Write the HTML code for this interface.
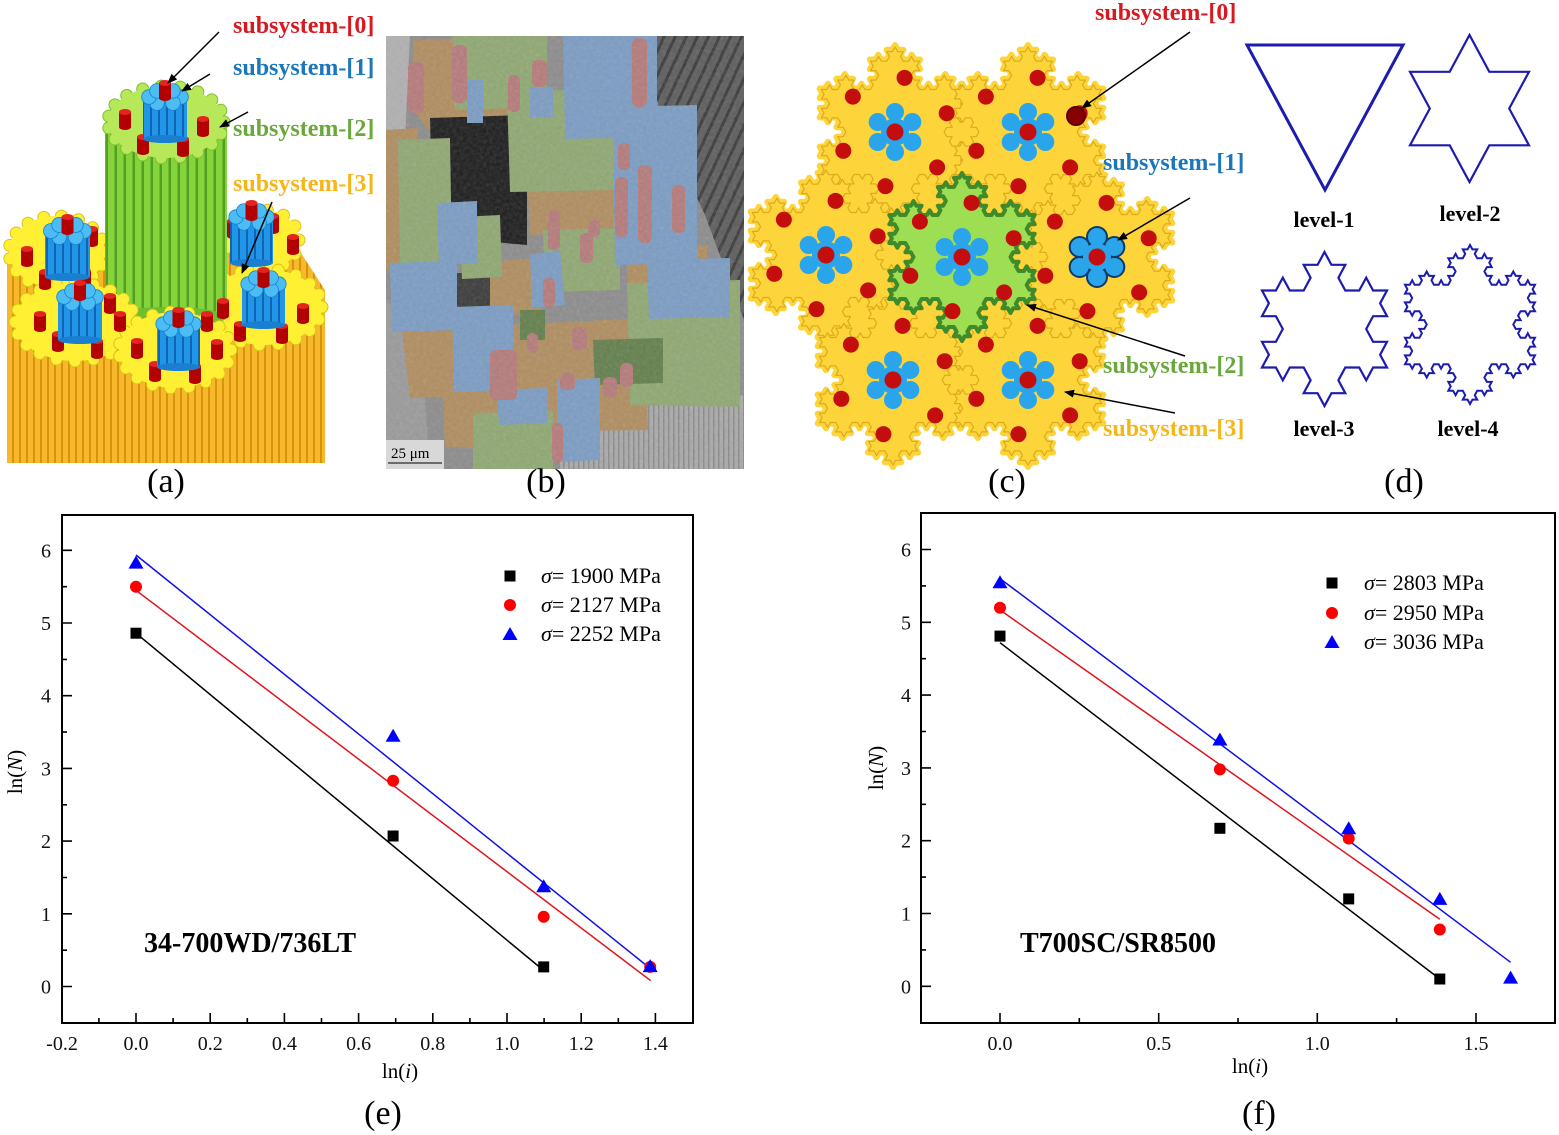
<!DOCTYPE html>
<html><head><meta charset="utf-8"><style>
html,body{margin:0;padding:0;background:#fff;}
body{width:1559px;height:1135px;overflow:hidden;}
svg{display:block;}
</style></head><body>
<svg id="s" width="1559" height="1135" viewBox="0 0 1559 1135" xmlns="http://www.w3.org/2000/svg" font-family="'Liberation Serif', serif">
<defs>
<pattern id="ostr" width="7" height="10" patternUnits="userSpaceOnUse"><rect width="7" height="10" fill="#f8b82c"/><rect x="5" width="2" height="10" fill="#d8920e"/></pattern>
<pattern id="gstr" width="9" height="10" patternUnits="userSpaceOnUse"><rect width="9" height="10" fill="#86d43c"/><rect x="6.5" width="2.5" height="10" fill="#529f22"/></pattern>
<pattern id="bstr" width="8" height="10" patternUnits="userSpaceOnUse"><rect width="8" height="10" fill="#2196e8"/><rect x="6" width="2" height="10" fill="#0f64b4"/></pattern>
<pattern id="dstr" width="10" height="10" patternUnits="userSpaceOnUse" patternTransform="rotate(25)"><rect width="10" height="10" fill="#5c5c5c"/><rect x="6" width="3" height="10" fill="#3a3a3a"/></pattern>
<pattern id="lstr" width="5" height="10" patternUnits="userSpaceOnUse"><rect width="5" height="10" fill="#a9a9a9"/><rect x="3" width="1.5" height="10" fill="#8a8a8a"/></pattern>
<filter id="nz" x="0" y="0" width="1" height="1"><feTurbulence type="fractalNoise" baseFrequency="0.3" numOctaves="2" seed="4"/><feColorMatrix type="saturate" values="0"/></filter>
<marker id="ah" markerWidth="10" markerHeight="8" refX="9" refY="4" orient="auto" markerUnits="userSpaceOnUse"><path d="M0,0L10,4L0,8Z" fill="#000"/></marker>
<clipPath id="cb"><rect x="386" y="36" width="358" height="433"/></clipPath>
</defs>

<!-- ================= PANEL A ================= -->
<g id="pa">
<path d="M7,262 L60,246 L150,236 L290,236 L325,290 L325,463 L7,463 Z" fill="url(#ostr)"/>
<g id="ayb"></g>
<rect x="105" y="122" width="122" height="195" fill="url(#gstr)"/>
<ellipse cx="166" cy="317" rx="61" ry="10" fill="#6cbf2e"/>
<g id="agt"></g>
<g id="ayf"></g>
<g id="acl"></g>
</g>
<g font-weight="bold" font-size="24">
<text x="233" y="33" fill="#d71920">subsystem-[0]</text>
<text x="233" y="75" fill="#1c76bc">subsystem-[1]</text>
<text x="233" y="136" fill="#6aa83c">subsystem-[2]</text>
<text x="233" y="191" fill="#f6b617">subsystem-[3]</text>
</g>
<g stroke="#000" stroke-width="1.5" marker-end="url(#ah)">
<line x1="219" y1="32" x2="168" y2="83"/>
<line x1="210" y1="74" x2="182" y2="91"/>
<line x1="248" y1="112" x2="220" y2="127"/>
<line x1="272" y1="202" x2="242" y2="273"/>
</g>
<text x="166" y="492" font-size="34" text-anchor="middle">(a)</text>

<!-- ================= PANEL B ================= -->
<g clip-path="url(#cb)">
<rect x="386" y="36" width="358" height="433" fill="#8c8c8c"/>
<path d="M386,36 L410,36 L405,140 L386,150Z" fill="#b0b0b0"/>
<path d="M640,36 L744,36 L744,320 L705,215 L665,130 Z" fill="url(#dstr)"/>
<path d="M560,405 L744,395 L744,469 L560,469Z" fill="url(#lstr)"/>
<path d="M386,300 L420,330 L430,469 L386,469Z" fill="#9a9a9a"/>
<g fill="#b08d5f">
<path d="M413,40 L470,38 L478,125 L430,132 L413,110Z"/>
<path d="M386,130 L418,128 L420,272 L386,270Z"/>
<path d="M480,103 L567,100 L567,132 L482,132Z"/>
<path d="M527,172 L613,165 L615,230 L530,235Z"/>
<path d="M483,262 L537,258 L540,313 L486,316Z"/>
<path d="M400,313 L490,308 L495,395 L410,398Z"/>
<path d="M443,390 L500,388 L500,447 L445,447Z"/>
<path d="M505,325 L645,318 L648,430 L510,432Z"/>
<path d="M627,248 L707,245 L708,303 L628,305Z"/>
</g>
<path d="M430,118 L527,115 L527,245 L470,240 L432,200Z" fill="#1c1c1c"/>
<path d="M457,273 L490,273 L490,313 L457,313Z" fill="#3a3a3a"/>
<g fill="#8fa872">
<path d="M453,36 L547,36 L547,107 L455,110Z"/>
<path d="M398,140 L450,138 L452,263 L400,265Z"/>
<path d="M507,92 L613,88 L615,190 L510,192Z"/>
<path d="M460,217 L500,215 L502,277 L462,279Z"/>
<path d="M543,230 L620,228 L620,290 L545,292Z"/>
<path d="M627,283 L740,280 L740,407 L630,405Z"/>
<path d="M473,413 L553,411 L553,469 L473,469Z"/>
</g>
<path d="M593,340 L663,338 L663,383 L595,385Z" fill="#627f4c"/>
<path d="M520,310 L545,310 L545,340 L520,340Z" fill="#627f4c"/>
<g fill="#7b9cc3">
<path d="M563,36 L657,36 L657,137 L565,139Z"/>
<path d="M613,107 L697,105 L697,263 L615,265Z"/>
<path d="M390,263 L457,261 L457,330 L392,332Z"/>
<path d="M452,307 L513,305 L513,390 L454,392Z"/>
<path d="M557,380 L600,378 L600,460 L557,462Z"/>
<path d="M437,203 L477,201 L477,263 L439,265Z"/>
<path d="M647,260 L730,258 L730,317 L649,319Z"/>
<path d="M497,390 L547,388 L547,423 L499,425Z"/>
<path d="M467,80 L483,80 L483,123 L467,123Z"/>
<path d="M530,87 L553,87 L553,117 L530,117Z"/>
<path d="M530,255 L560,250 L565,305 L532,308Z"/>
</g>
<g fill="#b57a7a">
<rect x="408" y="62" width="16" height="51" rx="6"/>
<rect x="452" y="45" width="15" height="58" rx="6"/>
<rect x="508" y="75" width="12" height="37" rx="5"/>
<rect x="532" y="60" width="15" height="27" rx="5"/>
<rect x="632" y="38" width="15" height="69" rx="6"/>
<rect x="618" y="143" width="12" height="27" rx="5"/>
<rect x="615" y="177" width="13" height="60" rx="5"/>
<rect x="638" y="165" width="14" height="78" rx="6"/>
<rect x="672" y="185" width="13" height="48" rx="5"/>
<rect x="548" y="210" width="12" height="40" rx="5"/>
<rect x="580" y="233" width="13" height="30" rx="5"/>
<rect x="588" y="220" width="12" height="17" rx="5"/>
<rect x="543" y="278" width="12" height="29" rx="5"/>
<rect x="527" y="333" width="11" height="20" rx="5"/>
<rect x="572" y="327" width="15" height="23" rx="5"/>
<rect x="490" y="350" width="27" height="50" rx="6"/>
<rect x="560" y="373" width="15" height="17" rx="5"/>
<rect x="603" y="377" width="14" height="20" rx="5"/>
<rect x="620" y="363" width="13" height="24" rx="5"/>
<rect x="552" y="423" width="11" height="40" rx="5"/>
</g>
<rect x="386" y="36" width="358" height="433" filter="url(#nz)" opacity="0.2"/>
<rect x="386" y="440" width="58" height="29" fill="#d8d8d8"/>
<text x="391" y="458" font-size="15">25 μm</text>
<line x1="388" y1="463" x2="442" y2="463" stroke="#000" stroke-width="1"/>
</g>
<text x="546" y="492" font-size="34" text-anchor="middle">(b)</text>

<!-- ================= PANEL C ================= -->
<g id="pc"></g>
<g font-weight="bold" font-size="24">
<text x="1095" y="20" fill="#d71920">subsystem-[0]</text>
<text x="1103" y="170" fill="#1c76bc">subsystem-[1]</text>
<text x="1103" y="373" fill="#6aa83c">subsystem-[2]</text>
<text x="1103" y="436" fill="#f6b617">subsystem-[3]</text>
</g>
<g stroke="#000" stroke-width="1.5" marker-end="url(#ah)">
<line x1="1190" y1="32" x2="1082" y2="108"/>
<line x1="1190" y1="198" x2="1118" y2="240"/>
<line x1="1185" y1="356" x2="1027" y2="305"/>
<line x1="1175" y1="413" x2="1065" y2="392"/>
</g>
<text x="1007" y="492" font-size="34" text-anchor="middle">(c)</text>

<!-- ================= PANEL D ================= -->
<g id="pd" fill="none" stroke="#1c1cae" stroke-linejoin="miter">
<path d="M1247,45 L1403,45 L1325,190 Z" stroke-width="3"/>
</g>
<g font-weight="bold" font-size="22" text-anchor="middle">
<text x="1324" y="227">level-1</text>
<text x="1470" y="221">level-2</text>
<text x="1324" y="436">level-3</text>
<text x="1468" y="436">level-4</text>
</g>
<text x="1404" y="492" font-size="34" text-anchor="middle">(d)</text>

<!-- ================= PANEL E ================= -->
<g fill="none" stroke="#000">
<rect x="62" y="515" width="631" height="508" stroke-width="2"/>
<path stroke-width="1.6" d="M136,1023v-10M210.2,1023v-10M284.4,1023v-10M358.6,1023v-10M432.8,1023v-10M507,1023v-10M581.2,1023v-10M655.4,1023v-10M98.9,1023v-5M173.1,1023v-5M247.3,1023v-5M321.5,1023v-5M395.7,1023v-5M469.9,1023v-5M544.1,1023v-5M618.3,1023v-5M62,986.5h10M62,913.8h10M62,841.1h10M62,768.4h10M62,695.7h10M62,623h10M62,550.3h10M62,950.2h5M62,877.5h5M62,804.8h5M62,732.1h5M62,659.4h5M62,586.7h5"/>
</g>
<g font-size="20" text-anchor="middle" fill="#111">
<text x="62" y="1050">-0.2</text><text x="136" y="1050">0.0</text><text x="210.2" y="1050">0.2</text><text x="284.4" y="1050">0.4</text><text x="358.6" y="1050">0.6</text><text x="432.8" y="1050">0.8</text><text x="507" y="1050">1.0</text><text x="581.2" y="1050">1.2</text><text x="655.4" y="1050">1.4</text>
</g>
<g font-size="20" text-anchor="end" fill="#111">
<text x="51" y="993.5">0</text><text x="51" y="920.8">1</text><text x="51" y="848.1">2</text><text x="51" y="775.4">3</text><text x="51" y="702.7">4</text><text x="51" y="630">5</text><text x="51" y="557.3">6</text>
</g>
<text x="400" y="1078" font-size="21" text-anchor="middle">ln(<tspan font-style="italic">i</tspan>)</text>
<text transform="translate(22,772) rotate(-90)" font-size="21" text-anchor="middle">ln(<tspan font-style="italic">N</tspan>)</text>
<g stroke-width="1.5" fill="none">
<line x1="136" y1="633.2" x2="543.7" y2="970.5" stroke="#000"/>
<line x1="136" y1="590.3" x2="650.7" y2="980.7" stroke="#e0141c"/>
<line x1="136" y1="555" x2="653" y2="970.7" stroke="#1010e8"/>
</g>
<g fill="#000">
<rect x="130.5" y="627.7" width="11" height="11"/><rect x="387.6" y="830.5" width="11" height="11"/><rect x="538.2" y="961.4" width="11" height="11"/>
</g>
<g fill="#ff0000">
<circle cx="136" cy="586.7" r="6"/><circle cx="393.1" cy="780.8" r="6"/><circle cx="543.7" cy="916.7" r="6"/><circle cx="650.2" cy="966.9" r="6"/>
</g>
<g fill="#0000ff">
<path d="M136,555.6L143.5,568.6L128.5,568.6Z"/><path d="M393.1,728.7L400.6,741.7L385.6,741.7Z"/><path d="M543.7,879.2L551.2,892.2L536.2,892.2Z"/><path d="M650.2,959.1L657.7,972.1L642.7,972.1Z"/>
</g>
<g font-size="22">
<rect x="504.5" y="570.5" width="11" height="11" fill="#000"/>
<circle cx="510" cy="605" r="6" fill="#ff0000"/>
<path d="M510,627L517.5,640L502.5,640Z" fill="#0000ff"/>
<text x="541" y="583"><tspan font-style="italic">σ</tspan>= 1900 MPa</text>
<text x="541" y="612"><tspan font-style="italic">σ</tspan>= 2127 MPa</text>
<text x="541" y="641"><tspan font-style="italic">σ</tspan>= 2252 MPa</text>
</g>
<text x="144" y="952" font-size="28" font-weight="bold">34-700WD/736LT</text>
<text x="383" y="1124" font-size="34" text-anchor="middle">(e)</text>

<!-- ================= PANEL F ================= -->
<g fill="none" stroke="#000">
<rect x="921" y="513" width="634" height="510" stroke-width="2"/>
<path stroke-width="1.6" d="M1000,1023v-10M1158.7,1023v-10M1317.3,1023v-10M1476,1023v-10M1079.3,1023v-5M1238,1023v-5M1396.6,1023v-5M921,986.3h10M921,913.5h10M921,840.7h10M921,767.9h10M921,695.1h10M921,622.3h10M921,549.5h10M921,949.9h5M921,877.1h5M921,804.3h5M921,731.5h5M921,658.7h5M921,585.9h5"/>
</g>
<g font-size="20" text-anchor="middle" fill="#111">
<text x="1000" y="1050">0.0</text><text x="1158.7" y="1050">0.5</text><text x="1317.3" y="1050">1.0</text><text x="1476" y="1050">1.5</text>
</g>
<g font-size="20" text-anchor="end" fill="#111">
<text x="911" y="993.3">0</text><text x="911" y="920.5">1</text><text x="911" y="847.7">2</text><text x="911" y="774.9">3</text><text x="911" y="702.1">4</text><text x="911" y="629.3">5</text><text x="911" y="556.5">6</text>
</g>
<text x="1250" y="1073" font-size="21" text-anchor="middle">ln(<tspan font-style="italic">i</tspan>)</text>
<text transform="translate(883,768) rotate(-90)" font-size="21" text-anchor="middle">ln(<tspan font-style="italic">N</tspan>)</text>
<g stroke-width="1.5" fill="none">
<line x1="1000" y1="642.7" x2="1439.8" y2="979" stroke="#000"/>
<line x1="1000" y1="610" x2="1439.8" y2="919.3" stroke="#e0141c"/>
<line x1="1000" y1="578.6" x2="1510.6" y2="962.3" stroke="#1010e8"/>
</g>
<g fill="#000">
<rect x="994.5" y="630.6" width="11" height="11"/><rect x="1214.4" y="822.8" width="11" height="11"/><rect x="1343.2" y="893.4" width="11" height="11"/><rect x="1434.3" y="973.5" width="11" height="11"/>
</g>
<g fill="#ff0000">
<circle cx="1000" cy="607.7" r="6"/><circle cx="1219.9" cy="769.4" r="6"/><circle cx="1348.7" cy="838.5" r="6"/><circle cx="1439.8" cy="929.5" r="6"/>
</g>
<g fill="#0000ff">
<path d="M1000,575.3L1007.5,588.3L992.5,588.3Z"/><path d="M1219.9,732.5L1227.4,745.5L1212.4,745.5Z"/><path d="M1348.7,821.3L1356.2,834.3L1341.2,834.3Z"/><path d="M1439.8,891.9L1447.3,904.9L1432.3,904.9Z"/><path d="M1510.6,970.6L1518.1,983.6L1503.1,983.6Z"/>
</g>
<g font-size="22">
<rect x="1326.5" y="577.5" width="11" height="11" fill="#000"/>
<circle cx="1332" cy="613" r="6" fill="#ff0000"/>
<path d="M1332,635L1339.5,648L1324.5,648Z" fill="#0000ff"/>
<text x="1364" y="590"><tspan font-style="italic">σ</tspan>= 2803 MPa</text>
<text x="1364" y="620"><tspan font-style="italic">σ</tspan>= 2950 MPa</text>
<text x="1364" y="649"><tspan font-style="italic">σ</tspan>= 3036 MPa</text>
</g>
<text x="1020" y="952" font-size="28" font-weight="bold">T700SC/SR8500</text>
<text x="1259" y="1124" font-size="34" text-anchor="middle">(f)</text>
</svg>

<script>
(function(){
var NS='http://www.w3.org/2000/svg';
function el(t,a,p){var e=document.createElementNS(NS,t);for(var k in a)e.setAttribute(k,a[k]);p.appendChild(e);return e;}
function koch(pts,n){for(var k=0;k<n;k++){var out=[];for(var i=0;i<pts.length;i++){var a=pts[i],b=pts[(i+1)%pts.length];var dx=(b[0]-a[0])/3,dy=(b[1]-a[1])/3;var p1=[a[0]+dx,a[1]+dy],p2=[a[0]+2*dx,a[1]+2*dy];var pk=[p1[0]+0.5*dx+0.8660254*dy,p1[1]-0.8660254*dx+0.5*dy];out.push(a,p1,pk,p2);}pts=out;}return pts;}
function fit(p,x0,y0,x1,y1){var mnx=1e9,mny=1e9,mxx=-1e9,mxy=-1e9;p.forEach(function(q){mnx=Math.min(mnx,q[0]);mxx=Math.max(mxx,q[0]);mny=Math.min(mny,q[1]);mxy=Math.max(mxy,q[1]);});return p.map(function(q){return[x0+(q[0]-mnx)/(mxx-mnx)*(x1-x0),y0+(q[1]-mny)/(mxy-mny)*(y1-y0)];});}
function pth(p){return 'M'+p.map(function(q){return q[0].toFixed(1)+','+q[1].toFixed(1);}).join('L')+'Z';}
var tri=[[0,0],[1,0],[0.5,0.8660254]];
var pd=document.getElementById('pd');
el('path',{d:pth(fit(koch(tri,1),1410,35,1529,182)),'stroke-width':2.2},pd);
el('path',{d:pth(fit(koch(tri,2),1262,252,1387,406)),'stroke-width':2.2},pd);
el('path',{d:pth(fit(koch(tri,3),1405,245,1535,404)),'stroke-width':2},pd);

/* panel c */
var pc=document.getElementById('pc');
function unit(cx,cy,r,fill,stroke,sw){var b=[[cx-r*0.8660254,cy-r*0.5],[cx+r*0.8660254,cy-r*0.5],[cx,cy+r]];el('path',{d:pth(koch(b,3)),fill:fill,stroke:stroke,'stroke-width':sw,'stroke-linejoin':'round'},pc);}
var U=[[895,132],[1028,132],[826,255],[1097,257],[893,380],[1028,380]];
el('path',{d:'M895,132L1028,132L1097,257L1028,380L893,380L826,255Z',fill:'#fdd43a',stroke:'#fdd43a','stroke-width':30,'stroke-linejoin':'round'},pc);
U.forEach(function(u){unit(u[0],u[1],87,'#fdd43a','#fdd43a',6);});
U.forEach(function(u){unit(u[0],u[1],85,'#fdd43a','#dcab1c',1.2);});
unit(962,257,84,'#9ede52','#3f8a2a',4);
function dots(cx,cy){for(var k=0;k<6;k++){var a=(-80+60*k)*Math.PI/180;el('circle',{cx:cx+55*Math.cos(a),cy:cy+55*Math.sin(a),r:8,fill:'#c40d0d'},pc);}}
function flower(cx,cy,outl){var k,a;if(outl){for(k=0;k<6;k++){a=(-90+60*k)*Math.PI/180;el('circle',{cx:cx+20*Math.cos(a),cy:cy+20*Math.sin(a),r:11,fill:'#0d3a66'},pc);}}
for(k=0;k<6;k++){a=(-90+60*k)*Math.PI/180;el('circle',{cx:cx+20*Math.cos(a),cy:cy+20*Math.sin(a),r:9,fill:'#2aa4ea'},pc);}
el('circle',{cx:cx,cy:cy,r:14,fill:'#2aa4ea'},pc);el('circle',{cx:cx,cy:cy,r:8.5,fill:'#c40d0d'},pc);}
U.forEach(function(u,i){dots(u[0],u[1]);flower(u[0],u[1],i===3);});
dots(962,257);flower(962,257,false);
el('circle',{cx:1076,cy:116,r:9,fill:'#8a0000',stroke:'#5a0000','stroke-width':2},pc);

/* panel a */
var ayb=document.getElementById('ayb'),ayf=document.getElementById('ayf'),agt=document.getElementById('agt'),acl=document.getElementById('acl');
function blob(g,cx,cy,rx,ry,fill,edge){var n=Math.round((rx+ry)/5);for(var k=0;k<n;k++){var a=2*Math.PI*k/n;el('circle',{cx:cx+rx*Math.cos(a),cy:cy+ry*Math.sin(a),r:6,fill:fill,stroke:edge,'stroke-width':1},g);}el('ellipse',{cx:cx,cy:cy,rx:rx,ry:ry,fill:fill},g);}
var Y='#fff034',YE='#d9c21a';
blob(ayb,57,252,48,36,Y,YE);
blob(ayb,263,240,36,30,Y,YE);
blob(ayb,264,307,58,38,Y,YE);
blob(agt,166,122,58,36,'#b6e85a','#7cc02e');
blob(ayf,75,322,60,39,Y,YE);
blob(ayf,175,350,56,38,Y,YE);
function rc(g,cx,top){el('rect',{x:cx-6,y:top,width:12,height:15,fill:'#b30000'},g);el('ellipse',{cx:cx,cy:top+15,rx:6,ry:3,fill:'#b30000'},g);el('ellipse',{cx:cx,cy:top,rx:6,ry:3,fill:'#e3241f'},g);}
function bcl(g,x,y,w,h){el('rect',{x:x,y:y+8,width:w,height:h-8,fill:'url(#bstr)'},g);el('ellipse',{cx:x+w/2,cy:y+h,rx:w/2,ry:4,fill:'#1a7fd0'},g);
var cx=x+w/2,cy=y+10;for(var k=0;k<6;k++){var a=2*Math.PI*k/6;el('circle',{cx:cx+(w/2-6)*Math.cos(a),cy:cy+7*Math.sin(a),r:w/6,fill:'#4cbdf3',stroke:'#1a7fd0','stroke-width':0.8},g);}
rc(g,cx,y-4);}
var rp=[[125,112],[203,119],[143,137],[183,139],[27,249],[92,229],[85,271],[45,272],[40,314],[58,334],[97,341],[110,296],[120,314],[137,341],[155,364],[195,366],[217,342],[207,314],[223,301],[240,324],[282,326],[303,306],[293,237],[273,216],[233,221]];
rp.forEach(function(p){rc(acl,p[0],p[1]);});
bcl(acl,143,87,44,52);
bcl(acl,45,221,45,56);
bcl(acl,230,207,43,56);
bcl(acl,58,287,44,53);
bcl(acl,242,274,43,51);
bcl(acl,157,314,43,53);
})();
</script>
</body></html>
